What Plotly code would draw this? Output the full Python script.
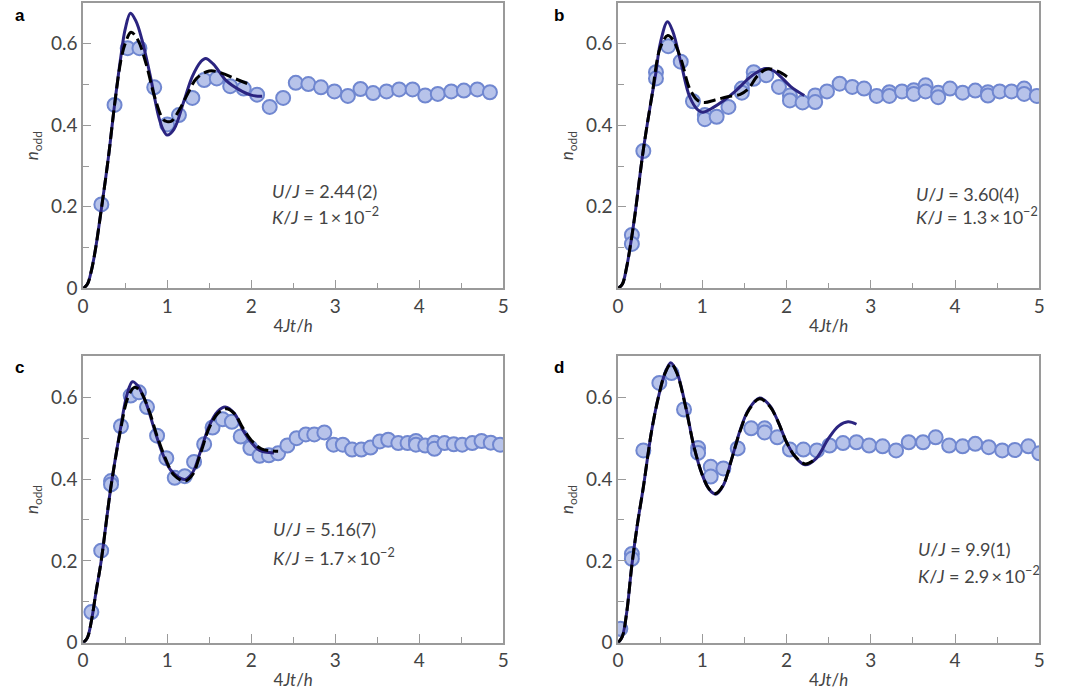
import plotly.graph_objects as go

# ---------------- data ----------------
# Panel a
a_pts_x = [0.217, 0.374, 0.53, 0.67, 0.846, 1.0, 1.14, 1.30, 1.44, 1.59, 1.75, 1.91, 2.07, 2.22, 2.38,
           2.53, 2.68, 2.83, 2.99, 3.15, 3.30, 3.45, 3.61, 3.76, 3.92, 4.07, 4.22, 4.38, 4.53, 4.69, 4.84]
a_pts_y = [0.206, 0.45, 0.589, 0.589, 0.493, 0.402, 0.425, 0.467, 0.511, 0.515, 0.496, 0.49, 0.475, 0.445, 0.467,
           0.504, 0.501, 0.493, 0.483, 0.472, 0.489, 0.479, 0.483, 0.488, 0.488, 0.473, 0.477, 0.483, 0.485, 0.488, 0.481]
a_sol_x = [0, 0.05, 0.1, 0.15, 0.2, 0.3, 0.374, 0.45, 0.5, 0.563, 0.63, 0.7, 0.8, 0.9, 0.95, 1.0, 1.08, 1.2, 1.3,
           1.4, 1.457, 1.55, 1.7, 1.85, 2.0, 2.13]
a_sol_y = [0, 0.01, 0.045, 0.1, 0.17, 0.32, 0.45, 0.57, 0.635, 0.675, 0.655, 0.61, 0.52, 0.42, 0.39, 0.376, 0.39,
           0.46, 0.52, 0.556, 0.564, 0.55, 0.51, 0.488, 0.474, 0.471]
a_dsh_x = [0, 0.05, 0.1, 0.15, 0.2, 0.3, 0.374, 0.45, 0.5, 0.57, 0.65, 0.75, 0.85, 0.95, 1.0, 1.05, 1.15, 1.25,
           1.35, 1.5, 1.65, 1.8, 1.97]
a_dsh_y = [0, 0.01, 0.045, 0.1, 0.17, 0.32, 0.45, 0.56, 0.60, 0.628, 0.61, 0.55, 0.47, 0.415, 0.409, 0.41, 0.44,
           0.48, 0.515, 0.533, 0.528, 0.515, 0.501]

# Panel b
b_pts_x = [0.164, 0.164, 0.30, 0.45, 0.45, 0.595, 0.744, 0.889, 1.03, 1.03, 1.17, 1.31, 1.47, 1.47, 1.61, 1.61,
           1.76, 1.91, 2.04, 2.04, 2.19, 2.34, 2.34, 2.48, 2.63, 2.78, 2.92, 3.07, 3.22, 3.22, 3.37, 3.51, 3.51,
           3.65, 3.65, 3.80, 3.80, 3.94, 4.09, 4.24, 4.39, 4.39, 4.53, 4.67, 4.82, 4.82, 4.97]
b_pts_y = [0.131, 0.109, 0.337, 0.53, 0.515, 0.594, 0.556, 0.459, 0.425, 0.415, 0.421, 0.445, 0.49, 0.48, 0.53,
           0.514, 0.523, 0.494, 0.473, 0.461, 0.456, 0.473, 0.457, 0.483, 0.502, 0.494, 0.49, 0.472, 0.481, 0.472,
           0.483, 0.486, 0.477, 0.498, 0.483, 0.48, 0.469, 0.49, 0.48, 0.485, 0.481, 0.473, 0.483, 0.483, 0.49,
           0.477, 0.472]
b_sol_x = [0, 0.05, 0.1, 0.15, 0.2, 0.3, 0.4, 0.45, 0.5, 0.587, 0.65, 0.75, 0.85, 0.95, 1.006, 1.1, 1.25, 1.4,
           1.55, 1.65, 1.75, 1.85, 1.95, 2.05, 2.21]
b_sol_y = [0, 0.01, 0.05, 0.11, 0.18, 0.34, 0.47, 0.53, 0.60, 0.654, 0.63, 0.55, 0.47, 0.437, 0.432, 0.44, 0.46,
           0.485, 0.515, 0.53, 0.539, 0.533, 0.515, 0.495, 0.473]
b_dsh_x = [0, 0.05, 0.1, 0.15, 0.2, 0.3, 0.4, 0.5, 0.59, 0.65, 0.75, 0.85, 0.95, 1.03, 1.15, 1.3, 1.45, 1.55,
           1.65, 1.77, 1.9, 2.04]
b_dsh_y = [0, 0.01, 0.05, 0.11, 0.18, 0.34, 0.47, 0.59, 0.62, 0.61, 0.56, 0.49, 0.46, 0.456, 0.462, 0.47, 0.476,
           0.49, 0.52, 0.538, 0.532, 0.514]

# Panel c
c_pts_x = [0.098, 0.215, 0.332, 0.332, 0.45, 0.566, 0.664, 0.76, 0.88, 0.99, 1.09, 1.21, 1.32, 1.44, 1.54, 1.66,
           1.77, 1.875, 1.99, 2.10, 2.21, 2.32, 2.43, 2.54, 2.65, 2.75, 2.87, 2.98, 3.09, 3.20, 3.31, 3.42, 3.53,
           3.63, 3.75, 3.86, 3.96, 3.96, 4.07, 4.18, 4.18, 4.30, 4.41, 4.51, 4.63, 4.74, 4.85, 4.96]
c_pts_y = [0.075, 0.225, 0.395, 0.387, 0.529, 0.604, 0.612, 0.576, 0.506, 0.451, 0.403, 0.407, 0.442, 0.485,
           0.526, 0.546, 0.54, 0.504, 0.476, 0.457, 0.458, 0.463, 0.482, 0.5, 0.509, 0.509, 0.514, 0.484, 0.484,
           0.472, 0.472, 0.477, 0.492, 0.496, 0.488, 0.488, 0.493, 0.484, 0.482, 0.489, 0.474, 0.488, 0.485,
           0.484, 0.488, 0.493, 0.489, 0.484]
c_sol_x = [0, 0.05, 0.1, 0.15, 0.215, 0.33, 0.45, 0.52, 0.586, 0.65, 0.75, 0.85, 0.95, 1.05, 1.21, 1.3, 1.4, 1.5,
           1.6, 1.69, 1.8, 1.9, 2.0, 2.1, 2.27]
c_sol_y = [0, 0.012, 0.055, 0.12, 0.2, 0.38, 0.53, 0.605, 0.638, 0.628, 0.585, 0.52, 0.46, 0.42, 0.399, 0.415,
           0.47, 0.53, 0.565, 0.576, 0.56, 0.52, 0.49, 0.47, 0.464]
c_dsh_x = [0, 0.05, 0.1, 0.15, 0.215, 0.33, 0.45, 0.53, 0.61, 0.68, 0.78, 0.88, 0.98, 1.08, 1.21, 1.3, 1.4, 1.5,
           1.6, 1.7, 1.8, 1.9, 2.0, 2.12, 2.32]
c_dsh_y = [0, 0.012, 0.055, 0.12, 0.2, 0.38, 0.525, 0.598, 0.624, 0.615, 0.57, 0.505, 0.45, 0.41, 0.395, 0.41,
           0.465, 0.525, 0.56, 0.572, 0.56, 0.525, 0.495, 0.474, 0.468]

# Panel d
d_pts_x = [0.027, 0.164, 0.164, 0.30, 0.49, 0.634, 0.783, 0.95, 0.95, 1.10, 1.10, 1.25, 1.42, 1.58, 1.74, 1.74,
           1.89, 2.04, 2.20, 2.36, 2.51, 2.67, 2.83, 2.98, 3.14, 3.30, 3.45, 3.62, 3.77, 3.93, 4.09, 4.24, 4.40,
           4.56, 4.71, 4.87, 5.0]
d_pts_y = [0.034, 0.217, 0.205, 0.47, 0.635, 0.659, 0.57, 0.476, 0.464, 0.43, 0.406, 0.426, 0.475, 0.524, 0.524,
           0.514, 0.502, 0.472, 0.472, 0.47, 0.482, 0.488, 0.49, 0.482, 0.48, 0.47, 0.49, 0.49, 0.502, 0.482, 0.48,
           0.486, 0.478, 0.47, 0.471, 0.48, 0.463]
d_sol_x = [0, 0.05, 0.1, 0.164, 0.23, 0.3, 0.4, 0.49, 0.56, 0.626, 0.7, 0.8, 0.9, 1.0, 1.08, 1.16, 1.25, 1.35,
           1.45, 1.55, 1.68, 1.8, 1.9, 2.0, 2.1, 2.22, 2.35, 2.5, 2.62, 2.73, 2.83]
d_sol_y = [0, 0.015, 0.07, 0.19, 0.29, 0.38, 0.52, 0.61, 0.66, 0.684, 0.66, 0.58, 0.48, 0.41, 0.375, 0.363, 0.385,
           0.45, 0.52, 0.57, 0.598, 0.58, 0.54, 0.49, 0.455, 0.435, 0.45, 0.5, 0.53, 0.54, 0.534]
d_dsh_x = [0, 0.05, 0.1, 0.164, 0.23, 0.3, 0.4, 0.49, 0.56, 0.63, 0.7, 0.8, 0.9, 1.0, 1.08, 1.16, 1.25, 1.35,
           1.45, 1.55, 1.68, 1.8, 1.9, 2.0, 2.1, 2.22, 2.35]
d_dsh_y = [0, 0.015, 0.07, 0.19, 0.29, 0.38, 0.52, 0.61, 0.66, 0.682, 0.658, 0.578, 0.48, 0.41, 0.376, 0.365,
           0.386, 0.45, 0.518, 0.568, 0.596, 0.578, 0.54, 0.49, 0.456, 0.437, 0.45]

panel_letters = ["a", "b", "c", "d"]
u_texts = ["2.44\u2009(2)", "3.60(4)", "5.16(7)", "9.9(1)"]
k_texts = ["1", "1.3", "1.7", "2.9"]
x_ticks = [0, 1, 2, 3, 4, 5]
y_ticks = [0, 0.2, 0.4, 0.6]

# ---------------- styling ----------------
FONT = "Lato"
TXT = "#444444"
AX = "#9a9a9a"
M_FILL = "#b7c3ea"
M_EDGE = "#7087d0"
NAVY = "#2b2480"
TICK_SIZE = 19
TITLE_SIZE = 17
ANN_SIZE = 18

panels = [
    (a_pts_x, a_pts_y, a_sol_x, a_sol_y, a_dsh_x, a_dsh_y),
    (b_pts_x, b_pts_y, b_sol_x, b_sol_y, b_dsh_x, b_dsh_y),
    (c_pts_x, c_pts_y, c_sol_x, c_sol_y, c_dsh_x, c_dsh_y),
    (d_pts_x, d_pts_y, d_sol_x, d_sol_y, d_dsh_x, d_dsh_y),
]

W, H = 1071, 700
xdom = [[78 / W, 503 / W], [619 / W, 1045 / W]]
ydom = [[1 - 293 / H, 1 - 3 / H], [1 - 653 / H, 1 - 362 / H]]
ann_pos = [(2.22, 0.24, 0.178), (3.51, 0.232, 0.178), (2.23, 0.277, 0.21), (3.54, 0.229, 0.166)]
letter_px = [(7, 4), (552, 4), (7, 362), (552, 362)]

fig = go.Figure()
layout = dict(width=W, height=H, margin=dict(l=0, r=0, t=0, b=0),
              paper_bgcolor="white", plot_bgcolor="white", showlegend=False,
              font=dict(family=FONT, color=TXT))
annotations = []

for i, (px, py, sx, sy, dx, dy) in enumerate(panels):
    r, c = divmod(i, 2)
    xa = "x" if i == 0 else f"x{i+1}"
    ya = "y" if i == 0 else f"y{i+1}"
    fig.add_trace(go.Scatter(x=px, y=py, mode="markers", xaxis=xa, yaxis=ya,
                             marker=dict(size=14, color=M_FILL, line=dict(color=M_EDGE, width=2)),
                             cliponaxis=True))
    fig.add_trace(go.Scatter(x=sx, y=sy, mode="lines", xaxis=xa, yaxis=ya,
                             line=dict(color=NAVY, width=3, shape="spline", smoothing=1.0)))
    fig.add_trace(go.Scatter(x=dx, y=dy, mode="lines", xaxis=xa, yaxis=ya,
                             line=dict(color="black", width=3, dash="12px,5px", shape="spline", smoothing=1.0)))

    yt = y_ticks if i != 1 else y_ticks[1:]
    xkey = "xaxis" if i == 0 else f"xaxis{i+1}"
    ykey = "yaxis" if i == 0 else f"yaxis{i+1}"
    layout[xkey] = dict(domain=xdom[c], anchor=ya, range=[0, 5], tickvals=x_ticks,
                        ticktext=[str(t) for t in x_ticks], ticks="inside", ticklen=9, tickwidth=1.3,
                        tickcolor=AX, showline=True, mirror=True, linecolor=AX, linewidth=1.5,
                        showgrid=False, zeroline=False,
                        minor=dict(dtick=0.5, ticks="inside", ticklen=6, tickcolor=AX, tickwidth=1.3, showgrid=False),
                        tickfont=dict(size=TICK_SIZE, color=TXT),
                        title=dict(text="4<i>Jt</i>/<i>h</i>", font=dict(size=TITLE_SIZE, color=TXT), standoff=4))
    layout[ykey] = dict(domain=ydom[r], anchor=xa, range=[0, 0.7], tickvals=yt,
                        ticktext=["0" if t == 0 else f"{t:.1f}" for t in yt], ticks="inside", ticklen=8,
                        tickwidth=1.3, tickcolor=AX, showline=True, mirror=True, linecolor=AX, linewidth=1.5,
                        showgrid=False, zeroline=False,
                        minor=dict(tickvals=[0.1, 0.3, 0.5], ticks="inside", ticklen=6, tickcolor=AX,
                                   tickwidth=1.3, showgrid=False),
                        tickfont=dict(size=TICK_SIZE, color=TXT),
                        title=dict(text="<i>n</i><sub>odd</sub>", font=dict(size=TITLE_SIZE, color=TXT), standoff=8))

    ax, ay1, ay2 = ann_pos[i]
    annotations.append(dict(x=ax, y=ay1, xref=xa, yref=ya, xanchor="left", yanchor="middle", showarrow=False,
                            text=f"<i>U</i>/<i>J</i> = {u_texts[i]}", font=dict(size=ANN_SIZE, color=TXT)))
    annotations.append(dict(x=ax, y=ay2, xref=xa, yref=ya, xanchor="left", yanchor="middle", showarrow=False,
                            text=f"<i>K</i>/<i>J</i> = {k_texts[i]}\u2009×\u200910<sup>−2</sup>",
                            font=dict(size=ANN_SIZE, color=TXT)))
    lx, ly = letter_px[i]
    annotations.append(dict(x=lx / W, y=1 - ly / H, xref="paper", yref="paper", xanchor="left", yanchor="top",
                            showarrow=False, text=f"<b>{panel_letters[i]}</b>",
                            font=dict(family="Liberation Sans", size=17, color="black")))

layout["annotations"] = annotations
fig.update_layout(**layout)
fig.write_html("out.html", config={"displayModeBar": False},
               post_script="document.body.style.margin='0px';")
